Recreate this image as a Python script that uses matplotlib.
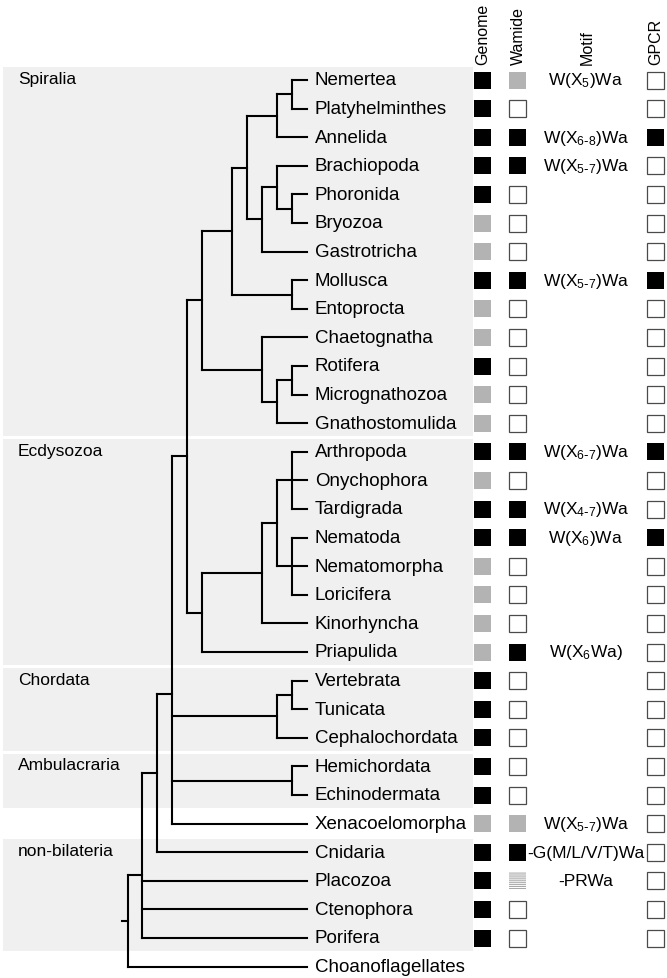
import matplotlib
matplotlib.use("Agg")
import matplotlib.pyplot as plt
from matplotlib.patches import Rectangle

plt.rcParams['font.family'] = ['Liberation Sans', 'DejaVu Sans']
plt.rcParams['mathtext.default'] = 'regular'
plt.rcParams['hatch.linewidth'] = 0.8

# taxa, top to bottom
taxa = ['Nemertea', 'Platyhelminthes', 'Annelida', 'Brachiopoda', 'Phoronida',
        'Bryozoa', 'Gastrotricha', 'Mollusca', 'Entoprocta', 'Chaetognatha',
        'Rotifera', 'Micrognathozoa', 'Gnathostomulida', 'Arthropoda',
        'Onychophora', 'Tardigrada', 'Nematoda', 'Nematomorpha', 'Loricifera',
        'Kinorhyncha', 'Priapulida', 'Vertebrata', 'Tunicata', 'Cephalochordata',
        'Hemichordata', 'Echinodermata', 'Xenacoelomorpha', 'Cnidaria',
        'Placozoa', 'Ctenophora', 'Porifera', 'Choanoflagellates']

# B = black, G = grey, W = white, S = striped, '' = nothing
genome = ['B', 'B', 'B', 'B', 'B', 'G', 'G', 'B', 'G', 'G', 'B', 'G', 'G',
          'B', 'G', 'B', 'B', 'G', 'G', 'G', 'G',
          'B', 'B', 'B', 'B', 'B', 'G', 'B', 'B', 'B', 'B', '']
wamide = ['G', 'W', 'B', 'B', 'W', 'W', 'W', 'B', 'W', 'W', 'W', 'W', 'W',
          'B', 'W', 'B', 'B', 'W', 'W', 'W', 'B',
          'W', 'W', 'W', 'W', 'W', 'G', 'B', 'S', 'W', 'W', '']
gpcr = ['W', 'W', 'B', 'W', 'W', 'W', 'W', 'B', 'W', 'W', 'W', 'W', 'W',
        'B', 'W', 'W', 'B', 'W', 'W', 'W', 'W',
        'W', 'W', 'W', 'W', 'W', 'W', 'W', 'W', 'W', 'W', '']
motif = {'Nemertea': 'W(X$_{5}$)Wa',
         'Annelida': 'W(X$_{6\\text{-}8}$)Wa',
         'Brachiopoda': 'W(X$_{5\\text{-}7}$)Wa',
         'Mollusca': 'W(X$_{5\\text{-}7}$)Wa',
         'Arthropoda': 'W(X$_{6\\text{-}7}$)Wa',
         'Tardigrada': 'W(X$_{4\\text{-}7}$)Wa',
         'Nematoda': 'W(X$_{6}$)Wa',
         'Priapulida': 'W(X$_{6}$Wa)',
         'Xenacoelomorpha': 'W(X$_{5\\text{-}7}$)Wa',
         'Cnidaria': '-G(M/L/V/T)Wa',
         'Placozoa': '-PRWa'}

# shaded groups: label, first taxon, last taxon
groups = [('Spiralia', 'Nemertea', 'Gnathostomulida'),
          ('Ecdysozoa', 'Arthropoda', 'Priapulida'),
          ('Chordata', 'Vertebrata', 'Cephalochordata'),
          ('Ambulacraria', 'Hemichordata', 'Echinodermata'),
          ('non-bilateria', 'Cnidaria', 'Porifera')]

# tree: (depth level, [children]); leaves are names
tree = (0, [
    (1, [
        (2, [
            (3, [
                (4, [
                    (5, [
                        (7, [
                            (8, [
                                (10, [(11, ['Nemertea', 'Platyhelminthes']), 'Annelida']),
                                (9, [(10, ['Brachiopoda', (11, ['Phoronida', 'Bryozoa'])]),
                                     'Gastrotricha'])]),
                            (11, ['Mollusca', 'Entoprocta'])]),
                        (9, ['Chaetognatha',
                             (10, [(11, ['Rotifera', 'Micrognathozoa']), 'Gnathostomulida'])])]),
                    (5, [
                        (9, [(10, [(11, ['Arthropoda', 'Onychophora', 'Tardigrada']),
                                   (11, ['Nematoda', 'Nematomorpha', 'Loricifera'])]),
                             'Kinorhyncha']),
                        'Priapulida'])]),
                (10, [(11, ['Vertebrata', 'Tunicata']), 'Cephalochordata']),
                (11, ['Hemichordata', 'Echinodermata']),
                'Xenacoelomorpha']),
            'Cnidaria']),
        'Placozoa', 'Ctenophora', 'Porifera']),
    'Choanoflagellates'])

W, H = 667, 979
row0_px, row_px = 81, 28.6
fig = plt.figure(figsize=(W / 100, H / 100), dpi=100)
ax = fig.add_axes([0, 0, 1, 1])
ax.set_xlim(0, W)
ax.set_ylim((H - row0_px) / row_px, -row0_px / row_px)
ax.axis('off')

row = {t: i for i, t in enumerate(taxa)}
x0, dx, leaf_level = 127.5, 14.95, 12
lw = 1.5


def lx(level):
    return x0 + dx * level


def draw(node):
    # returns (x, y) of node
    if isinstance(node, str):
        return lx(leaf_level), row[node]
    level, kids = node
    x = lx(level)
    pts = [draw(k) for k in kids]
    ys = [p[1] for p in pts]
    for kx, ky in pts:
        ax.plot([x, kx], [ky, ky], color='black', lw=lw, solid_capstyle='projecting', zorder=3)
    ax.plot([x, x], [min(ys), max(ys)], color='black', lw=lw, solid_capstyle='projecting', zorder=3)
    return x, sum(ys) / len(ys)


# grey bands
for label, first, last in groups:
    r0, r1 = row[first], row[last]
    ax.add_patch(Rectangle((3, r0 - 0.45), 470, r1 - r0 + 0.9, facecolor='#f0f0f0',
                           edgecolor='none', zorder=0))
    ax.text(18, r0 - 0.05, label, fontsize=12.5, va='center', ha='left', zorder=4)

rx, ry = draw(tree)
ax.plot([rx - 6, rx], [ry, ry], color='black', lw=lw, zorder=3)

for t in taxa:
    ax.text(lx(leaf_level) + 8, row[t], t, fontsize=13.5, va='center', ha='left', zorder=4)

# columns of boxes
sq = 17
sh = sq / row_px
fills = {'B': ('black', 'none'), 'G': ('#b3b3b3', 'none'), 'W': ('white', '#4a4a4a')}


def box(xc, r, code):
    if code == '':
        return
    if code == 'S':
        ax.add_patch(Rectangle((xc - sq / 2, r - sh / 2), sq, sh, facecolor='white',
                               edgecolor='#a8a8a8', lw=0, hatch='-' * 8, zorder=2))
        return
    fc, ec = fills[code]
    ax.add_patch(Rectangle((xc - sq / 2, r - sh / 2), sq, sh, facecolor=fc,
                           edgecolor=ec, lw=0.9, zorder=2))


col_x = {'Genome': 482, 'Wamide': 517, 'Motif': 586, 'GPCR': 655}
for i, t in enumerate(taxa):
    box(col_x['Genome'], i, genome[i])
    box(col_x['Wamide'], i, wamide[i])
    box(col_x['GPCR'], i, gpcr[i])
    if t in motif:
        ax.text(col_x['Motif'], i, motif[t], fontsize=12.5, ha='center', va='center', zorder=4)

for name, xc in col_x.items():
    ax.text(xc + 1, (65 - row0_px) / row_px, name, rotation=90, fontsize=11.5,
            ha='center', va='bottom')

fig.savefig('out.png', dpi=100)
